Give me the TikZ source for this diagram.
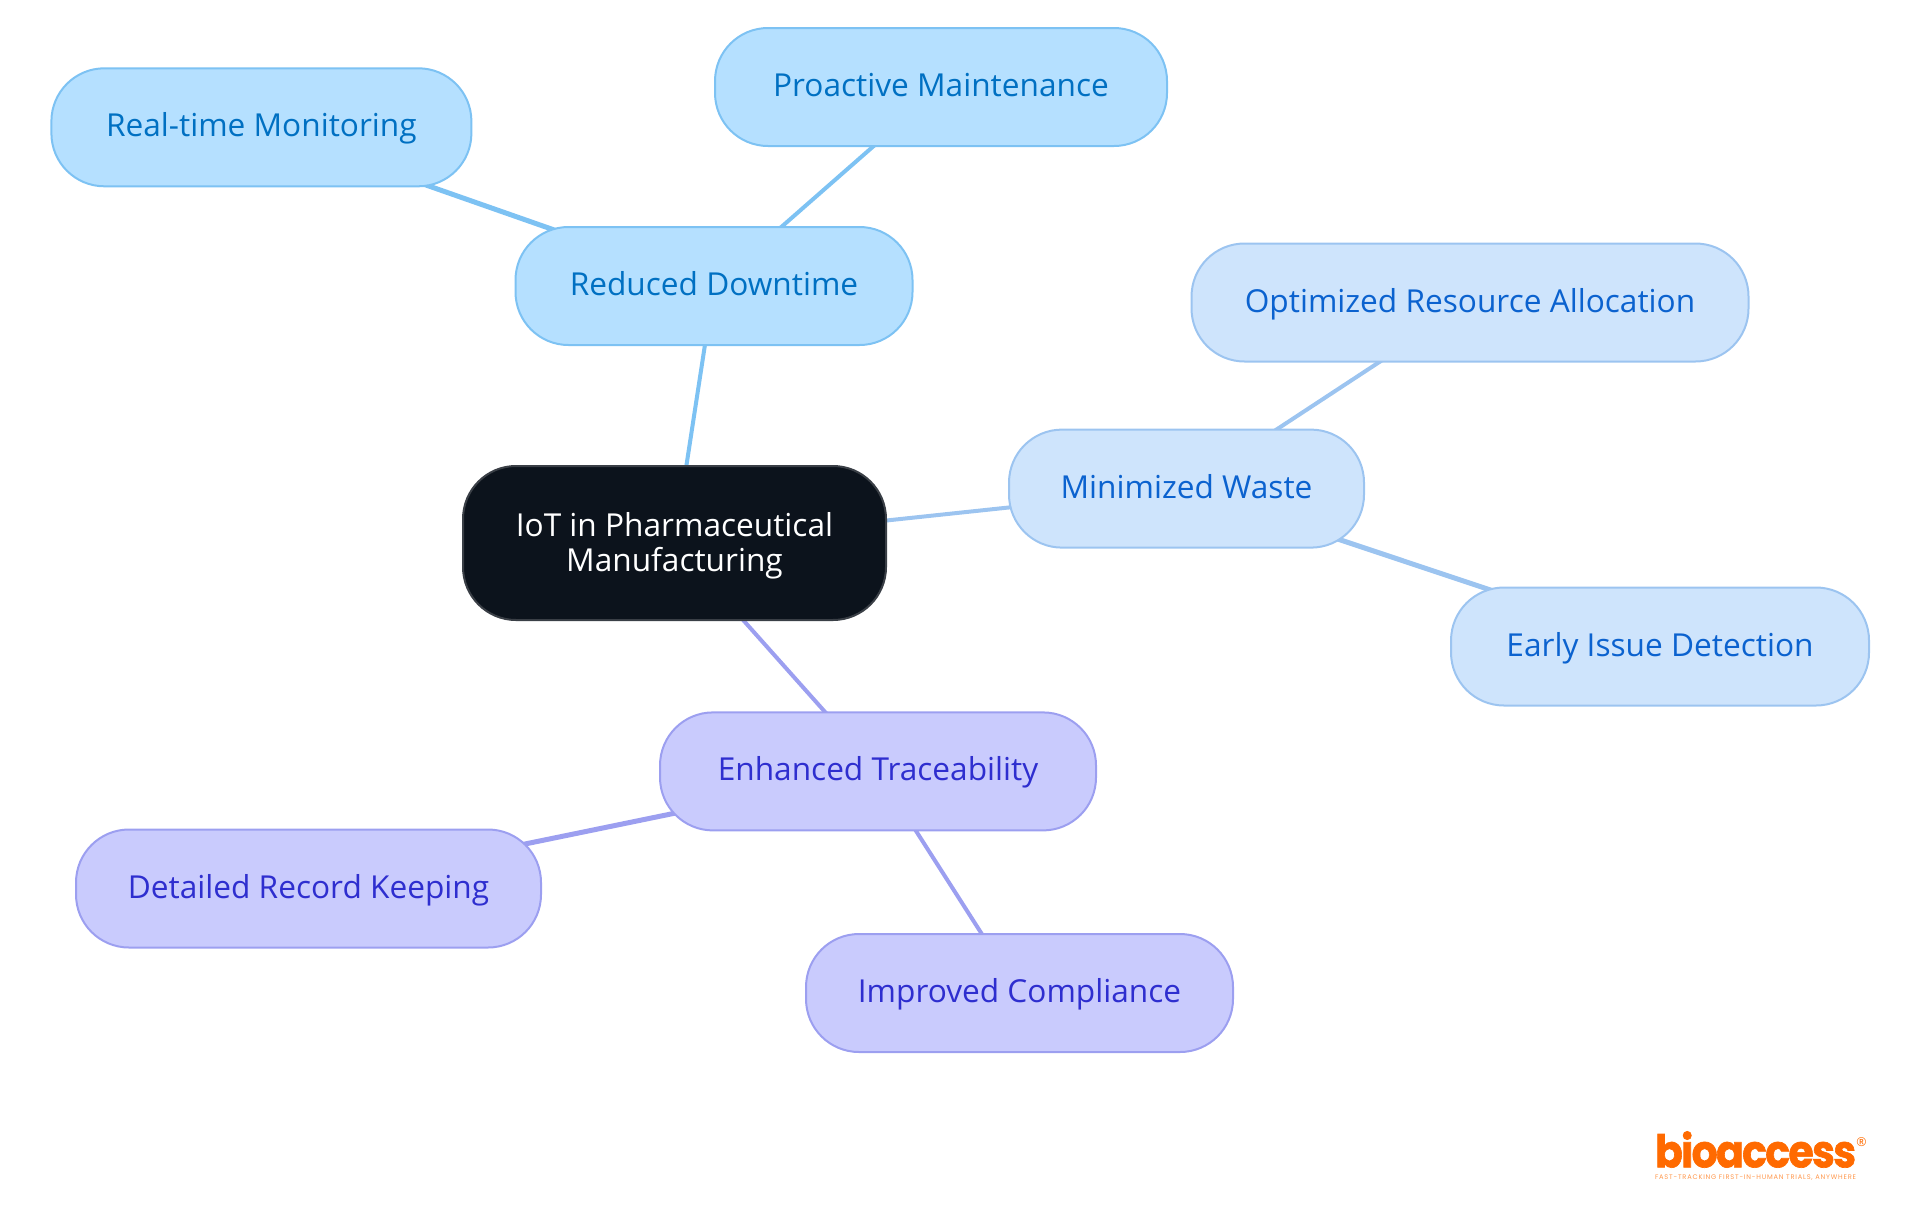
\documentclass[tikz,border=0pt]{standalone}
\usepackage{fontspec}
\usepackage{graphicx}
\setmainfont{Open Sans}
\newfontfamily\logofont{Poppins}[LetterSpace=-4,BoldFeatures={FakeBold=1.5}]
\newfontfamily\tagfont{Poppins}[LetterSpace=12]
\usetikzlibrary{backgrounds}

\definecolor{rootfill}{HTML}{0C131C}
\definecolor{rootline}{HTML}{3A3F46}
\definecolor{skyfill}{HTML}{B5E0FF}
\definecolor{skyline}{HTML}{7DC2F3}
\definecolor{skytext}{HTML}{0070C2}
\definecolor{paleblue}{HTML}{CEE4FC}
\definecolor{palebline}{HTML}{9CC4F0}
\definecolor{palebtext}{HTML}{0B62CF}
\definecolor{lilacfill}{HTML}{C9CBFD}
\definecolor{lilacline}{HTML}{9C9FF0}
\definecolor{lilactext}{HTML}{2E2ECF}
\definecolor{logoorange}{HTML}{FF6A00}

\tikzset{
  mapnode/.style={draw,shape=rectangle,rounded corners=5.3mm,line width=.2mm,
    inner sep=0pt,align=center,font=\fontsize{9}{10}\selectfont},
  leafnode/.style={mapnode,minimum height=11.8mm,text height=2.5mm,text depth=.6mm},
  rootnode/.style={mapnode,fill=rootfill,draw=rootline,text=white,minimum height=15.4mm},
  skynode/.style={leafnode,fill=skyfill,draw=skyline,text=skytext},
  palenode/.style={leafnode,fill=paleblue,draw=palebline,text=palebtext},
  lilacnode/.style={leafnode,fill=lilacfill,draw=lilacline,text=lilactext},
  skyedge/.style={draw=skyline,line width=.4mm},
  paleedge/.style={draw=palebline,line width=.4mm},
  lilacedge/.style={draw=lilacline,line width=.4mm},
}

\begin{document}
\begin{tikzpicture}

  \useasboundingbox (0,0) rectangle (19.2,-12.15);

  \draw (6.745,-5.43) node [rootnode,minimum width=42.3mm] (iot)
  {\rule{0pt}{2.9mm}IoT in Pharmaceutical\\Manufacturing};

  \draw (7.14,-2.86) node [skynode,minimum width=39.7mm] (downtime) {Reduced Downtime};
  \draw (2.614,-1.273) node [skynode,minimum width=42mm] (monitoring) {Real-time Monitoring};
  \draw (9.41,-.87) node [skynode,minimum width=45.2mm] (maintenance) {Proactive Maintenance};

  \draw (11.865,-4.886) node [palenode,minimum width=35.5mm] (waste) {Minimized Waste};
  \draw (14.7,-3.025) node [palenode,minimum width=55.7mm] (allocation) {Optimized Resource Allocation};
  \draw (16.6,-6.465) node [palenode,minimum width=41.8mm] (detection) {Early Issue Detection};

  \draw (8.78,-7.714) node [lilacnode,minimum width=43.6mm] (trace) {Enhanced Traceability};
  \draw (3.085,-8.885) node [lilacnode,minimum width=46.5mm] (records) {Detailed Record Keeping};
  \draw (10.195,-9.93) node [lilacnode,minimum width=42.7mm] (compliance) {Improved Compliance};

  \begin{scope}[on background layer]
    \draw[skyedge] (iot.center) -- (downtime.center);
    \draw[skyedge,line width=.5mm] (downtime.center) -- (monitoring.center);
    \draw[skyedge] (downtime.center) -- (maintenance.center);
    \draw[paleedge] (iot.center) -- (waste.center);
    \draw[paleedge] (waste.center) -- (allocation.center);
    \draw[paleedge,line width=.5mm] (waste.center) -- (detection.center);
    \draw[lilacedge] (iot.center) -- (trace.center);
    \draw[lilacedge,line width=.5mm] (trace.center) -- (records.center);
    \draw[lilacedge] (trace.center) -- (compliance.center);
  \end{scope}

  % logo
  \draw (17.555,-11.495) node [inner sep=0pt,text=logoorange] (logo)
  {\resizebox{20.1mm}{3.6mm}{\logofont\bfseries bioaccess}};
  \draw (18.615,-11.42) node [inner sep=0pt,text=logoorange] (regmark)
  {\fontsize{3.5}{3.5}\selectfont\textregistered};
  \draw (17.555,-11.78) node [inner sep=0pt,text=logoorange!70] (tagline)
  {\resizebox{20.1mm}{!}{\tagfont FAST-TRACKING FIRST-IN-HUMAN TRIALS, ANYWHERE}};

\end{tikzpicture}
\end{document}
